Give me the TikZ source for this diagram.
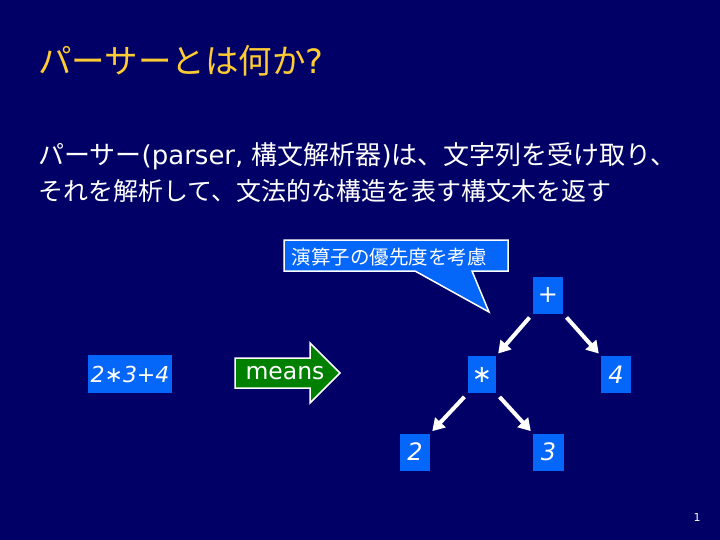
\documentclass[tikz,border=0pt]{standalone}
\usepackage{fontspec}
\setmainfont{DejaVu Sans}
\newfontfamily\jp{Noto Sans CJK JP}
\usetikzlibrary{arrows.meta}
\definecolor{bgnavy}{RGB}{0,0,102}
\definecolor{boxblue}{RGB}{5,102,250}
\definecolor{meansgreen}{RGB}{0,128,0}
\definecolor{titleyellow}{RGB}{255,204,51}
\tikzset{
  treebox/.style={fill=boxblue, text=white, minimum width=30pt, minimum height=37pt, inner sep=0pt, font=\fontsize{24}{26}\selectfont\itshape},
  treearrow/.style={draw=white, line width=4pt, -{Triangle[length=12pt,width=14pt]}, shorten <=5pt, shorten >=3pt},
}
\begin{document}
\begin{tikzpicture}[x=1pt,y=-1pt]
\fill[bgnavy] (0,0) rectangle (720,540);
\useasboundingbox (0,0) rectangle (720,540);

% title
\node[anchor=base west, inner sep=0pt, text=titleyellow, font=\fontsize{33.5}{36}\selectfont] (title) at (38,74) {{\jp パーサーとは何か}?};

% body
\node[anchor=base west, inner sep=0pt, text=white, font=\fontsize{26}{30}\selectfont] (line1) at (38,165) {{\jp パーサー}(parser, {\jp 構文解析器})\jp は、文字列を受け取り、};
\node[anchor=base west, inner sep=0pt, text=white, font=\fontsize{25}{30}\selectfont\jp] (line2) at (38,201) {それを解析して、文法的な構造を表す構文木を返す};

% callout
\filldraw[fill=boxblue, draw=white, line width=1.5pt, line join=miter]
  (284,240) -- (508,240) -- (508,271) -- (472,271) -- (489,312) -- (415,271) -- (284,271) -- cycle;
\node[text=white, inner sep=0pt, font=\fontsize{19.5}{22}\selectfont\jp] (callout) at (389,257) {演算子の優先度を考慮};

% expression box
\node[fill=boxblue, text=white, minimum width=84pt, minimum height=38pt, inner sep=0pt, font=\fontsize{22}{26}\selectfont\itshape] (expr) at (130,374) {2∗3+4};

% means arrow
\filldraw[fill=meansgreen, draw=white, line width=1.5pt, line join=miter]
  (235,358) -- (310,358) -- (310,343) -- (340,373) -- (310,403) -- (310,388) -- (235,388) -- cycle;
\node[text=white, inner sep=0pt, font=\fontsize{23.5}{26}\selectfont] (means) at (285,373) {means};

% tree
\node[treebox] (plus) at (548,295) {+};
\node[treebox, minimum width=28pt] (times) at (482,374.5) {∗};
\node[treebox] (four) at (616,374.5) {4};
\node[treebox] (two) at (415,452) {2};
\node[treebox, minimum width=31pt] (three) at (548.5,452) {3};

\draw[treearrow] (plus.south west) -- (times.north east);
\draw[treearrow] (plus.south east) -- (four.north west);
\draw[treearrow] (times.south west) -- (two.north east);
\draw[treearrow] (times.south east) -- (three.north west);

% page number
\node[text=white, inner sep=0pt, font=\fontsize{11}{13}\selectfont] (page) at (697,517) {1};
\end{tikzpicture}
\end{document}
